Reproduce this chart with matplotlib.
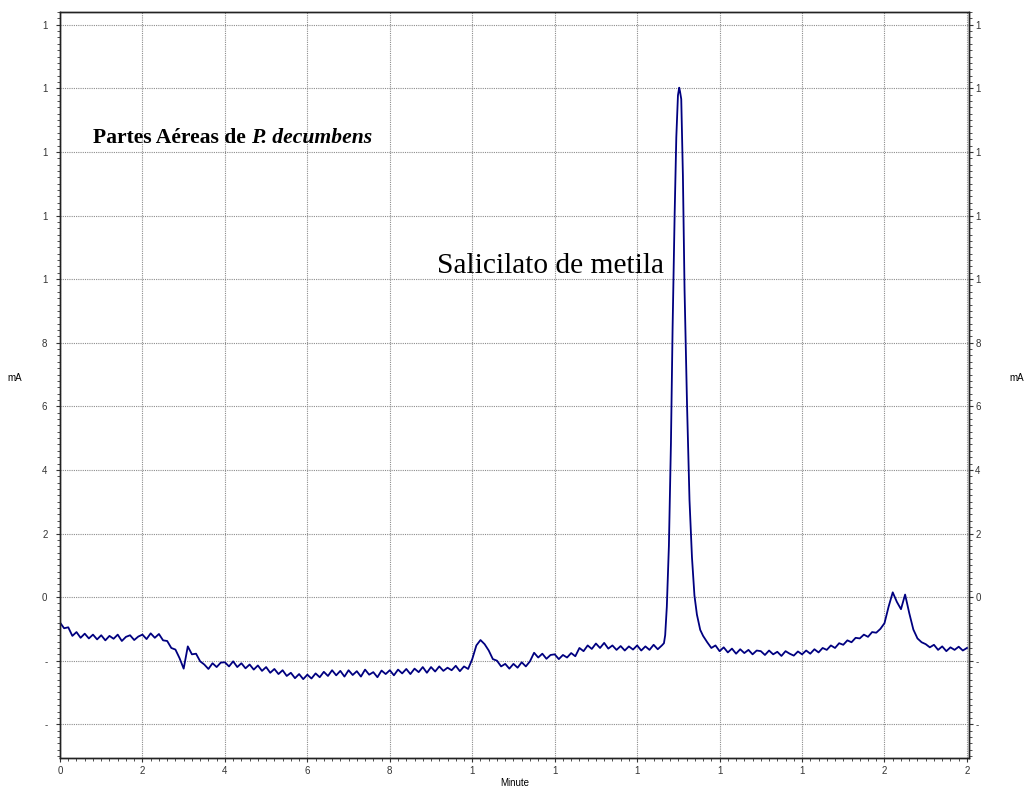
import numpy as np
import matplotlib
matplotlib.use("Agg")
import matplotlib.pyplot as plt
from matplotlib.ticker import MultipleLocator, FixedLocator, FixedFormatter

# ---------------- data ----------------
# segment 1: 0.0 .. 14.6 min, every 0.1 min
t_pre = np.round(np.linspace(0.0, 14.6, 147), 2)
s_pre = [
    -0.80, -0.98, -0.95, -1.22, -1.10, -1.28, -1.15, -1.30, -1.18, -1.33,
    -1.20, -1.36, -1.22, -1.31, -1.18, -1.38, -1.25, -1.20, -1.35, -1.24,
    -1.18, -1.32, -1.14, -1.28, -1.16, -1.36, -1.38, -1.60, -1.65, -1.92,
    -2.25, -1.55, -1.80, -1.78, -2.02, -2.12, -2.26, -2.08, -2.20, -2.06,
    -2.05, -2.18, -2.02, -2.20, -2.08, -2.24, -2.12, -2.28, -2.15, -2.32,
    -2.20, -2.38, -2.26, -2.42, -2.30, -2.48, -2.38, -2.55, -2.42, -2.58,
    -2.44, -2.56, -2.40, -2.52, -2.35, -2.48, -2.30, -2.46, -2.32, -2.50,
    -2.30, -2.45, -2.33, -2.50, -2.28, -2.44, -2.36, -2.52, -2.31, -2.42,
    -2.30, -2.46, -2.28, -2.40, -2.26, -2.42, -2.25, -2.36, -2.20, -2.38,
    -2.20, -2.34, -2.18, -2.32, -2.22, -2.30, -2.16, -2.33, -2.18, -2.26,
    -1.95, -1.52, -1.35, -1.48, -1.68, -1.95, -2.00, -2.18, -2.10, -2.25,
    -2.10, -2.22, -2.05, -2.18, -2.02, -1.75, -1.90, -1.78, -1.94, -1.82,
    -1.80, -1.95, -1.82, -1.90, -1.76, -1.86, -1.60, -1.70, -1.52, -1.63,
    -1.46, -1.60, -1.44, -1.62, -1.52, -1.66, -1.54, -1.68, -1.55, -1.65,
    -1.52, -1.68, -1.55, -1.66, -1.50, -1.64, -1.52,
]
# segment 2: main peak (methyl salicylate)
t_peak = [14.65, 14.68, 14.72, 14.77, 14.82, 14.86, 14.91, 14.95, 14.99, 15.02,
          15.04, 15.07, 15.11, 15.15, 15.21, 15.27, 15.33, 15.39, 15.45, 15.53, 15.60]
s_peak = [-1.45, -1.20, -0.30, 1.60, 4.85, 8.46, 12.06, 14.46, 15.78, 16.02,
          15.90, 15.66, 13.26, 9.66, 6.06, 3.05, 1.25, 0.05, -0.55, -1.03, -1.22]
# segment 3: 15.7 .. 22.0 min, every 0.1 min
t_post = np.round(np.linspace(15.7, 22.0, 64), 2)
s_post = [
    -1.42, -1.60, -1.52,
    -1.70, -1.58, -1.74, -1.62, -1.78, -1.64, -1.76, -1.66, -1.80, -1.68,
    -1.70, -1.82, -1.68, -1.80, -1.72, -1.85, -1.70, -1.78, -1.84, -1.71,
    -1.80, -1.68, -1.78, -1.64, -1.74, -1.60, -1.66, -1.52, -1.60, -1.45,
    -1.50, -1.36, -1.42, -1.28, -1.30, -1.18, -1.25, -1.10, -1.12, -1.00,
    -0.82, -0.30, 0.15, -0.15, -0.38, 0.08, -0.50, -1.02, -1.30, -1.42,
    -1.48, -1.58, -1.50, -1.66, -1.55, -1.70, -1.58, -1.66, -1.56, -1.68,
    -1.60,
]

x_ticks = [0, 2, 4, 6, 8, 10, 12, 14, 16, 18, 20, 22]
x_tick_labels = ["0", "2", "4", "6", "8", "1", "1", "1", "1", "1", "2", "2"]
y_ticks = [-4, -2, 0, 2, 4, 6, 8, 10, 12, 14, 16, 18]
y_tick_labels = ["-", "-", "0", "2", "4", "6", "8", "1", "1", "1", "1", "1"]

time_all = np.concatenate([t_pre, t_peak, t_post])
signal_all = np.concatenate([s_pre, s_peak, s_post])

SANS = "Liberation Sans"
SERIF = "Liberation Serif"

# ---------------- figure ----------------
fig = plt.figure(figsize=(10.24, 7.89), dpi=100)
ax = fig.add_axes([60 / 1024, 31 / 789, 909 / 1024, 746 / 789])

ax.plot(time_all, signal_all, color="#000080", lw=1.3)

ax.set_xlim(0, 22.05)
ax.set_ylim(-5.06, 18.4)

ax.xaxis.set_major_locator(FixedLocator(x_ticks))
ax.xaxis.set_major_formatter(FixedFormatter(x_tick_labels))
ax.yaxis.set_major_locator(FixedLocator(y_ticks))
ax.yaxis.set_major_formatter(FixedFormatter(y_tick_labels))
ax.xaxis.set_minor_locator(MultipleLocator(0.2))
ax.yaxis.set_minor_locator(MultipleLocator(0.2))

ax.grid(True, which="major", color="#8c8c8c", linestyle=(0, (1, 1)), lw=0.8)
ax.tick_params(which="both", direction="out", labelsize=7, colors="#333333",
               top=False, right=False)
ax.tick_params(which="major", length=3, width=0.8)
ax.tick_params(which="minor", length=2, width=0.6)
ax.tick_params(axis="y", which="major", pad=6)
ax.tick_params(axis="x", which="major", pad=3)
for lab in ax.get_xticklabels() + ax.get_yticklabels():
    lab.set_fontfamily(SANS)
for sp in ax.spines.values():
    sp.set_color("#222222")
    sp.set_linewidth(1.0)

# right-hand axis with its own labels
ax2 = ax.twinx()
ax2.set_ylim(ax.get_ylim())
ax2.yaxis.set_major_locator(FixedLocator(y_ticks))
ax2.yaxis.set_major_formatter(FixedFormatter(y_tick_labels))
ax2.yaxis.set_minor_locator(MultipleLocator(0.2))
ax2.tick_params(which="both", direction="out", labelsize=7, colors="#333333")
ax2.tick_params(which="major", length=3, width=0.8, pad=1.5)
ax2.tick_params(which="minor", length=2, width=0.6)
for lab in ax2.get_yticklabels():
    lab.set_fontfamily(SANS)
for sp in ax2.spines.values():
    sp.set_color("#222222")
    sp.set_linewidth(1.0)

ax.set_xlabel("Minute", fontsize=7, family=SANS, labelpad=1)
fig.text(15 / 1024, 1 - 378 / 789, "mA", fontsize=7, family=SANS,
         ha="center", va="center")
fig.text(1017 / 1024, 1 - 378 / 789, "mA", fontsize=7, family=SANS,
         ha="center", va="center")

# annotations
t1 = ax.text(0.8, 14.45, "Partes Aéreas de ", fontsize=15.6, fontweight="bold",
             family=SERIF, ha="left", va="center")
ax.annotate("P. decumbens", xy=(1, 0), xycoords=t1, ha="left", va="bottom",
            fontsize=15.6, fontweight="bold", fontstyle="italic", family=SERIF)
ax.text(9.15, 10.42, "Salicilato de metila", fontsize=21.2,
        family=SERIF, ha="left", va="center")

fig.savefig("out.png", dpi=100)
